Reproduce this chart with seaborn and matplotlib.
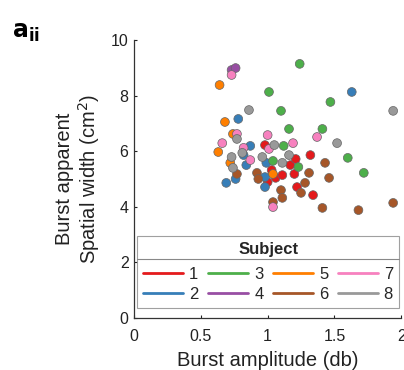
import matplotlib
matplotlib.use("Agg")
import matplotlib.pyplot as plt
from matplotlib.lines import Line2D
import seaborn as sns
import pandas as pd

# ---- data ----
subjects = ["1", "2", "3", "4", "5", "6", "7", "8"]
colors = ["#E41A1C", "#377EB8", "#4DAF4A", "#984EA3",
          "#FF7F00", "#A65628", "#F781BF", "#999999"]

amp_1 = [0.98, 1.03, 1.06, 1.00, 1.11, 1.17, 1.21, 1.20, 1.22, 1.32, 1.34]
wid_1 = [6.22, 5.32, 5.04, 4.89, 5.14, 5.50, 5.72, 5.18, 4.71, 5.86, 4.42]
amp_2 = [0.78, 0.87, 0.82, 0.84, 0.99, 0.76, 0.69, 0.98, 0.98, 1.63]
wid_2 = [7.16, 6.19, 5.86, 5.50, 5.58, 5.00, 4.86, 5.07, 4.71, 8.13]
amp_3 = [1.24, 1.01, 1.47, 1.10, 1.16, 1.41, 1.12, 1.04, 1.23, 1.60, 1.72]
wid_3 = [9.14, 8.13, 7.77, 7.45, 6.80, 6.80, 6.19, 5.65, 5.43, 5.76, 5.22]
amp_4 = [0.73, 0.76]
wid_4 = [8.92, 8.99]
amp_5 = [0.64, 0.68, 0.74, 0.63, 0.72, 1.04]
wid_5 = [8.38, 7.05, 6.62, 5.97, 5.58, 5.18]
amp_6 = [0.77, 0.92, 0.93, 1.10, 1.11, 1.04, 1.25, 1.28, 1.31, 1.43, 1.46,
         1.41, 1.68, 1.94]
wid_6 = [5.18, 5.22, 5.00, 4.60, 4.32, 4.17, 4.50, 4.86, 5.22, 5.58, 5.04,
         3.96, 3.88, 4.14]
amp_7 = [0.73, 0.66, 0.77, 0.82, 0.87, 1.00, 1.01, 1.19, 1.37, 1.04]
wid_7 = [8.74, 6.29, 6.62, 6.12, 5.68, 6.58, 6.08, 6.29, 6.51, 3.99]
amp_8 = [0.86, 0.77, 0.81, 0.73, 0.74, 0.96, 1.05, 1.11, 1.16, 1.52, 1.94]
wid_8 = [7.48, 6.44, 5.94, 5.79, 5.40, 5.79, 6.22, 5.58, 5.86, 6.29, 7.45]

x_ticks = [0, 0.5, 1, 1.5, 2]
x_tick_labels = ["0", "0.5", "1", "1.5", "2"]
y_ticks = [0, 2, 4, 6, 8, 10]

amps = [amp_1, amp_2, amp_3, amp_4, amp_5, amp_6, amp_7, amp_8]
wids = [wid_1, wid_2, wid_3, wid_4, wid_5, wid_6, wid_7, wid_8]
rows = []
for s, a_list, w_list in zip(subjects, amps, wids):
    for a, w in zip(a_list, w_list):
        rows.append({"Subject": s, "amp": a, "width": w})
df = pd.DataFrame(rows)
palette = dict(zip(subjects, colors))

# ---- style ----
sns.set_style("ticks")
plt.rcParams["font.family"] = ["Liberation Sans", "DejaVu Sans"]

fig = plt.figure(figsize=(4.04, 3.70), dpi=100)
ax = fig.add_axes([0.332, 0.1405, 0.661, 0.7515])

sns.scatterplot(data=df, x="amp", y="width", hue="Subject",
                hue_order=subjects, palette=palette, s=40,
                edgecolor="#666666", linewidth=0.5, ax=ax, legend=False,
                zorder=3)

ax.set_xlim(0, 2)
ax.set_ylim(0, 10)
ax.set_xticks(x_ticks)
ax.set_xticklabels(x_tick_labels)
ax.set_yticks(y_ticks)
ax.tick_params(direction="in", length=2.5, width=0.8, labelsize=11.5,
               colors="#222222")
ax.tick_params(axis="x", pad=8)
ax.tick_params(axis="y", pad=4)
for sp in ["top", "right"]:
    ax.spines[sp].set_visible(False)
for sp in ["left", "bottom"]:
    ax.spines[sp].set_color("#333333")
    ax.spines[sp].set_linewidth(0.9)

ax.set_xlabel("Burst amplitude (db)", fontsize=14.5, color="#222222",
              labelpad=5)
ax.set_ylabel("Burst apparent\nSpatial width (cm$^2$)", fontsize=14.5,
              color="#222222", labelpad=6, linespacing=1.15)

handles = [Line2D([0], [0], color=c, lw=2) for c in colors]
leg = ax.legend(handles, subjects, title="Subject", ncol=4,
                loc="lower left", bbox_to_anchor=(0.011, 0.036, 0.982, 0.27),
                mode="expand", fontsize=12,
                title_fontproperties={"weight": "bold", "size": 12},
                frameon=True, fancybox=False, edgecolor="#888888",
                handlelength=2.4, handletextpad=0.35, borderaxespad=0,
                labelspacing=0.3, borderpad=0.38)
leg.get_frame().set_linewidth(0.8)
leg.set_zorder(5)
leg._legend_box.sep = 7

# separator under the legend title
ax.add_line(Line2D([0.011, 0.993], [0.212, 0.212], transform=ax.transAxes,
                   color="#888888", lw=0.8, zorder=6))

fig.text(0.03, 0.88, r"$\mathbf{a}_{\mathbf{ii}}$", fontsize=17,
         color="black", ha="left", va="bottom")

fig.savefig("out.png", dpi=100)
